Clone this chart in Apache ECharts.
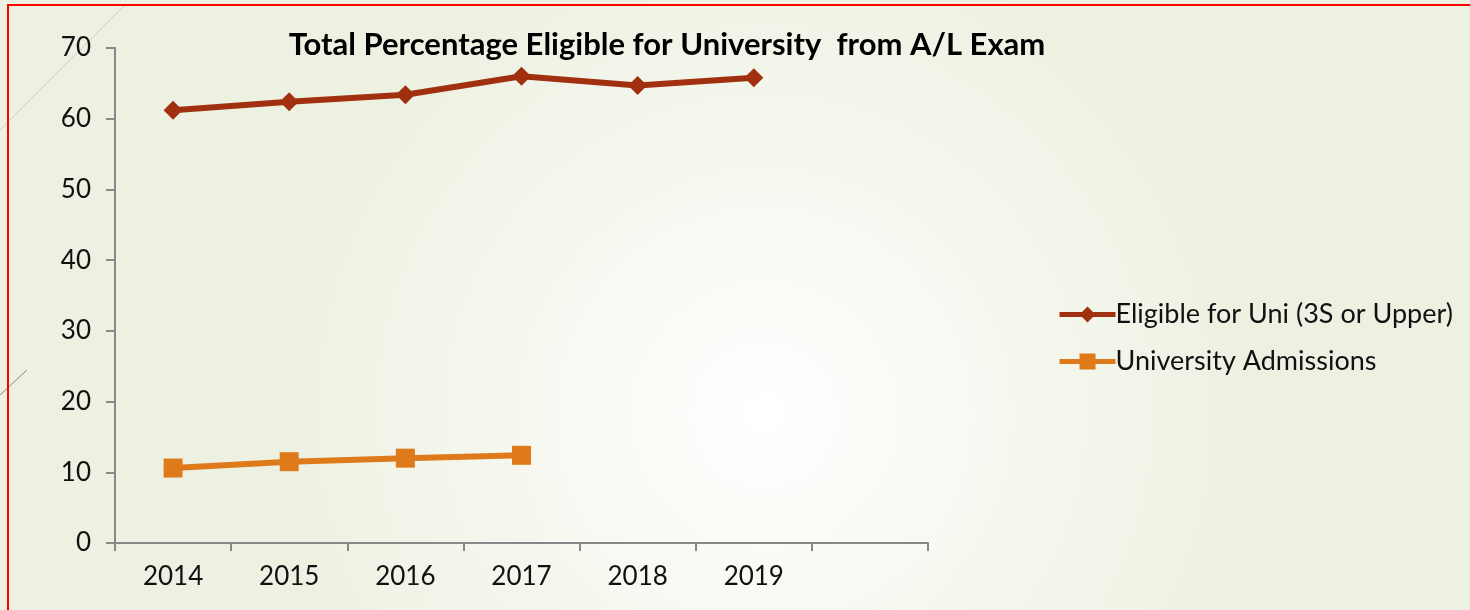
<!DOCTYPE html>
<html>
<head>
<meta charset="utf-8">
<script src="https://cdn.jsdelivr.net/npm/echarts@6/dist/echarts.min.js"></script>
<style>html,body{margin:0;padding:0;}#c{width:1470px;height:610px;}</style>
</head>
<body>
<div id="c"></div>
<script>
const categories = ['2014','2015','2016','2017','2018','2019',''];
const eligible = [61.2, 62.4, 63.4, 66.0, 64.7, 65.8, null];
const admissions = [10.6, 11.5, 12.0, 12.4, null, null, null];
const yTicks = [0, 10, 20, 30, 40, 50, 60, 70];

const font = 'Lato, "DejaVu Sans", sans-serif';
const chart = echarts.init(document.getElementById('c'));
chart.setOption({
  backgroundColor: {
    type: 'radial', x: 0.52, y: 0.68, r: 0.8,
    colorStops: [{offset: 0, color: '#ffffff'}, {offset: 1, color: '#edf1e1'}]
  },
  animation: false,
  title: {
    text: 'Total Percentage Eligible for University  from A/L Exam',
    left: 662, top: 24, textAlign: 'center',
    textStyle: {fontFamily: font, fontWeight: 'bold', fontSize: 31, color: '#000'}
  },
  legend: {
    orient: 'vertical', left: 1052, top: 296, itemGap: 20,
    itemWidth: 56, itemHeight: 20,
    lineStyle: {width: 5},
    textStyle: {fontFamily: font, fontSize: 27, color: '#111', padding: [0,0,0,-5]},
    data: ['Eligible for Uni (3S or Upper)', 'University Admissions']
  },
  grid: {left: 115, right: 542, top: 48, bottom: 67},
  xAxis: {
    type: 'category', data: categories, boundaryGap: true,
    axisLine: {lineStyle: {color: '#888', width: 2}},
    axisTick: {show: true, length: 8, lineStyle: {color: '#888', width: 2}},
    axisLabel: {fontFamily: font, fontSize: 26, color: '#111', margin: 21}
  },
  yAxis: {
    type: 'value', min: yTicks[0], max: yTicks[yTicks.length-1], interval: 10,
    splitLine: {show: false},
    axisLine: {show: true, lineStyle: {color: '#888', width: 2}},
    axisTick: {show: true, length: 9, lineStyle: {color: '#888', width: 2}},
    axisLabel: {fontFamily: font, fontSize: 26, color: '#111', margin: 24}
  },
  series: [
    {
      name: 'Eligible for Uni (3S or Upper)', type: 'line', data: eligible,
      symbol: 'diamond', symbolSize: 19,
      lineStyle: {color: '#A0300F', width: 6},
      itemStyle: {color: '#A0300F'}
    },
    {
      name: 'University Admissions', type: 'line', data: admissions,
      symbol: 'rect', symbolSize: 19,
      lineStyle: {color: '#DF7A1A', width: 6},
      itemStyle: {color: '#DF7A1A'}
    }
  ],
  graphic: [
    {type: 'line', shape: {x1: 0, y1: 130, x2: 125, y2: 5}, style: {stroke: '#d0d2c4', lineWidth: 1}, silent: true},
    {type: 'line', shape: {x1: 0, y1: 395, x2: 27, y2: 370}, style: {stroke: '#8a8a7a', lineWidth: 1}, silent: true},
    {type: 'rect', shape: {x: 8, y: 5, width: 1470, height: 620}, style: {fill: 'none', stroke: '#ff0000', lineWidth: 2}, silent: true}
  ]
});
</script>
</body>
</html>
